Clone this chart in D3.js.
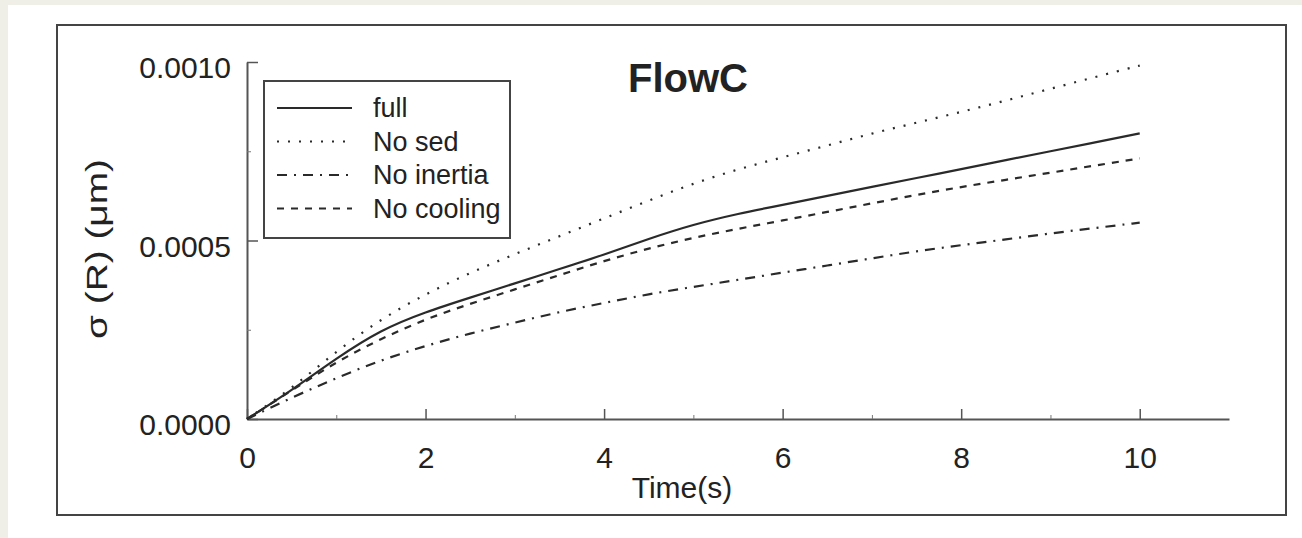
<!DOCTYPE html>
<html>
<head>
<meta charset="utf-8">
<script src="https://cdn.jsdelivr.net/npm/d3@7"></script>
<style>
  body { margin: 0; background: #efefe7; }
  text { font-family: "Liberation Sans", Arial, sans-serif; fill: #222; }
</style>
</head>
<body>
<div id="chart"></div>
<script>
// time axis (s)
var times = [0, 0.5, 1, 1.5, 2, 2.5, 3, 3.5, 4, 4.5, 5, 5.5, 6, 6.5, 7, 7.5, 8, 8.5, 9, 9.5, 10];

// sigma(R) in um
var full      = [0, 0.000080, 0.000170, 0.000250, 0.000300, 0.000340, 0.000380, 0.000420, 0.000460, 0.000505, 0.000545,
                 0.000575, 0.000600, 0.000625, 0.000650, 0.000675, 0.000700, 0.000725, 0.000750, 0.000775, 0.000800];
var noSed     = [0, 0.000085, 0.000190, 0.000280, 0.000350, 0.000410, 0.000462, 0.000512, 0.000562, 0.000612, 0.000660,
                 0.000700, 0.000733, 0.000766, 0.000800, 0.000830, 0.000860, 0.000892, 0.000925, 0.000958, 0.000990];
var noInertia = [0, 0.000060, 0.000115, 0.000165, 0.000205, 0.000240, 0.000270, 0.000300, 0.000325, 0.000350, 0.000370,
                 0.000390, 0.000410, 0.000430, 0.000450, 0.000470, 0.000487, 0.000503, 0.000520, 0.000535, 0.000550];
var noCooling = [0, 0.000080, 0.000160, 0.000225, 0.000280, 0.000323, 0.000363, 0.000403, 0.000443, 0.000478, 0.000508,
                 0.000533, 0.000556, 0.000580, 0.000604, 0.000628, 0.000650, 0.000670, 0.000690, 0.000710, 0.000730];

var seriesNames = ["full", "No sed", "No inertia", "No cooling"];
var xTicks = [0, 2, 4, 6, 8, 10];
var xMinor = [1, 3, 5, 7, 9];
var yTicks = [0, 0.0005, 0.0010];
var yMinor = [0.00025, 0.00075];

var series = [
  {name: seriesNames[0], values: full,      dash: null},
  {name: seriesNames[1], values: noSed,     dash: "2,9"},
  {name: seriesNames[2], values: noInertia, dash: "10,7,2,7"},
  {name: seriesNames[3], values: noCooling, dash: "7,7"}
];

var W = 1302, H = 538;

var svg = d3.select("#chart")
  .append("svg")
    .attr("width", W)
    .attr("height", H);

// white page and outer frame
svg.append("rect")
  .attr("x", 8).attr("y", 5)
  .attr("width", W - 8).attr("height", H - 5)
  .attr("fill", "#fff");

svg.append("rect")
  .attr("x", 57).attr("y", 25)
  .attr("width", 1229).attr("height", 490)
  .attr("fill", "none")
  .attr("stroke", "#444")
  .attr("stroke-width", 2);

var x = d3.scaleLinear().domain([0, 11]).range([247, 1229]);
var y = d3.scaleLinear().domain([0, 0.0010]).range([419, 62]);

// x axis
var gx = svg.append("g")
  .attr("transform", "translate(0," + y(0) + ")")
  .call(d3.axisBottom(x).tickValues(xTicks).tickSize(-10).tickSizeOuter(0).tickFormat(d3.format("d")));
gx.select(".domain").attr("stroke", "#555").attr("stroke-width", 2);
gx.selectAll(".tick line").attr("stroke", "#555").attr("stroke-width", 1.5);
gx.selectAll("text")
  .attr("y", 49).attr("dy", null)
  .style("font-size", "30px").attr("fill", "#222");

svg.append("g")
  .attr("transform", "translate(0," + y(0) + ")")
  .call(d3.axisBottom(x).tickValues(xMinor).tickSize(-4).tickFormat(""))
  .call(function(g) { g.select(".domain").remove(); })
  .selectAll("line").attr("stroke", "#777");

// y axis
var gy = svg.append("g")
  .attr("transform", "translate(" + x(0) + ",0)")
  .call(d3.axisLeft(y).tickValues(yTicks).tickSize(-11).tickSizeOuter(0).tickPadding(16).tickFormat(d3.format(".4f")));
gy.select(".domain").attr("stroke", "#555").attr("stroke-width", 2);
gy.selectAll(".tick line").attr("stroke", "#555").attr("stroke-width", 1.5);
gy.selectAll("text")
  .attr("dy", "0.53em")
  .style("font-size", "30px").attr("fill", "#222");

svg.append("g")
  .attr("transform", "translate(" + x(0) + ",0)")
  .call(d3.axisLeft(y).tickValues(yMinor).tickSize(-4).tickFormat(""))
  .call(function(g) { g.select(".domain").remove(); })
  .selectAll("line").attr("stroke", "#777");

// curves
var line = d3.line()
  .x(function(d, i) { return x(times[i]); })
  .y(function(d) { return y(d); })
  .curve(d3.curveBasis);

svg.selectAll(".curve")
  .data(series)
  .enter()
  .append("path")
    .attr("class", "curve")
    .attr("d", function(d) { return line(d.values); })
    .attr("fill", "none")
    .attr("stroke", "#2a2a2a")
    .attr("stroke-width", 2.2)
    .attr("stroke-dasharray", function(d) { return d.dash; });

// title
svg.append("text")
  .text("FlowC")
  .attr("x", 688).attr("y", 92)
  .attr("text-anchor", "middle")
  .style("font-size", "40px")
  .style("font-weight", "bold")
  .attr("fill", "#111");

// axis titles
svg.append("text")
  .text("Time(s)")
  .attr("x", 682).attr("y", 498)
  .attr("text-anchor", "middle")
  .style("font-size", "30px");

svg.append("text")
  .text("σ (R) (μm)")
  .attr("transform", "translate(107,249) rotate(-90)")
  .attr("text-anchor", "middle")
  .attr("textLength", 180)
  .attr("lengthAdjust", "spacingAndGlyphs")
  .style("font-size", "29px");

// legend
var legend = svg.append("g");
legend.append("rect")
  .attr("x", 264).attr("y", 81)
  .attr("width", 246).attr("height", 157)
  .attr("fill", "#fff")
  .attr("stroke", "#444")
  .attr("stroke-width", 2);

var item = legend.selectAll(".item")
  .data(series)
  .enter()
  .append("g")
    .attr("class", "item")
    .attr("transform", function(d, i) { return "translate(0," + (108 + i * 33.5) + ")"; });

item.append("line")
  .attr("x1", 277).attr("x2", 352)
  .attr("stroke", "#2a2a2a")
  .attr("stroke-width", 2)
  .attr("stroke-dasharray", function(d) { return d.dash; });

item.append("text")
  .text(function(d) { return d.name; })
  .attr("x", 373).attr("y", 9)
  .style("font-size", "27px");
</script>
</body>
</html>
